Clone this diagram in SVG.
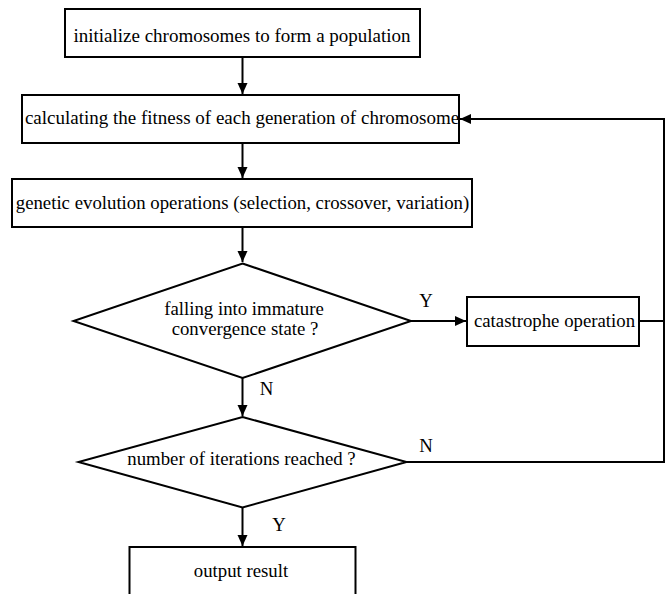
<svg xmlns="http://www.w3.org/2000/svg" width="667" height="594" viewBox="0 0 667 594" font-family="Liberation Serif, DejaVu Serif, serif" font-size="18.8">
<style>
.box{fill:#fff;stroke:#000;stroke-width:2}
.ln{fill:none;stroke:#000;stroke-width:2}
.c{text-anchor:middle;fill:#000}
</style>
<defs>
<marker id="ah" markerUnits="userSpaceOnUse" markerWidth="12" markerHeight="11" refX="11" refY="5" orient="auto">
<path d="M0,0 L11,5 L0,10 z" fill="#000"/>
</marker>
</defs>
<rect width="667" height="594" fill="#fff"/>
<g id="connectors">
<path class="ln" d="M242.5,57 V94" marker-end="url(#ah)"/>
<path class="ln" d="M242.5,143 V178" marker-end="url(#ah)"/>
<path class="ln" d="M242.5,227 V262" marker-end="url(#ah)"/>
<path class="ln" d="M411,321 H466" marker-end="url(#ah)"/>
<path class="ln" d="M639,321 H664 V119 H460" marker-end="url(#ah)"/>
<path class="ln" d="M242.5,378 V416" marker-end="url(#ah)"/>
<path class="ln" d="M406,462 H664 V321"/>
<path class="ln" d="M242.5,508 V546" marker-end="url(#ah)"/>
<text class="c" x="426" y="306.5" font-family="Liberation Serif, serif">Y</text>
<text class="c" x="266.5" y="395" font-family="Liberation Serif, serif">N</text>
<text class="c" x="426" y="452" font-family="Liberation Serif, serif">N</text>
<text class="c" x="279" y="530.5" font-family="Liberation Serif, serif">Y</text>
</g>
<g id="init">
<rect class="box" x="65" y="9" width="355" height="48"/>
<text class="c" x="242" y="41.5" font-size="19" font-family="Liberation Serif, serif">initialize chromosomes to form a population</text>
</g>
<g id="fitness">
<rect class="box" x="22" y="95" width="437" height="48"/>
<text class="c" x="242" y="124" font-size="19" font-family="Liberation Serif, serif">calculating the fitness of each generation of chromosome</text>
</g>
<g id="genetic">
<rect class="box" x="12" y="179" width="460" height="48"/>
<text class="c" x="242.5" y="208.5" font-family="Liberation Serif, serif">genetic evolution operations (selection, crossover, variation)</text>
</g>
<g id="immature">
<polygon class="box" points="242.5,263.5 411,321 242.5,378 73.5,321"/>
<text class="c" x="244" y="314.5" font-family="Liberation Serif, serif">falling into immature</text>
<text class="c" x="245" y="334.5" font-family="Liberation Serif, serif">convergence state ?</text>
</g>
<g id="catastrophe">
<rect class="box" x="467" y="297" width="172" height="49"/>
<text class="c" x="554.5" y="327" font-family="Liberation Serif, serif">catastrophe operation</text>
</g>
<g id="iterations">
<polygon class="box" points="242.5,417 406.5,462 242.5,507.5 78.5,462"/>
<text class="c" x="241.5" y="464.5" font-family="Liberation Serif, serif">number of iterations reached ?</text>
</g>
<g id="output">
<rect class="box" x="129.5" y="547" width="226" height="52"/>
<text class="c" x="241" y="577" font-family="Liberation Serif, serif">output result</text>
</g>
</svg>
